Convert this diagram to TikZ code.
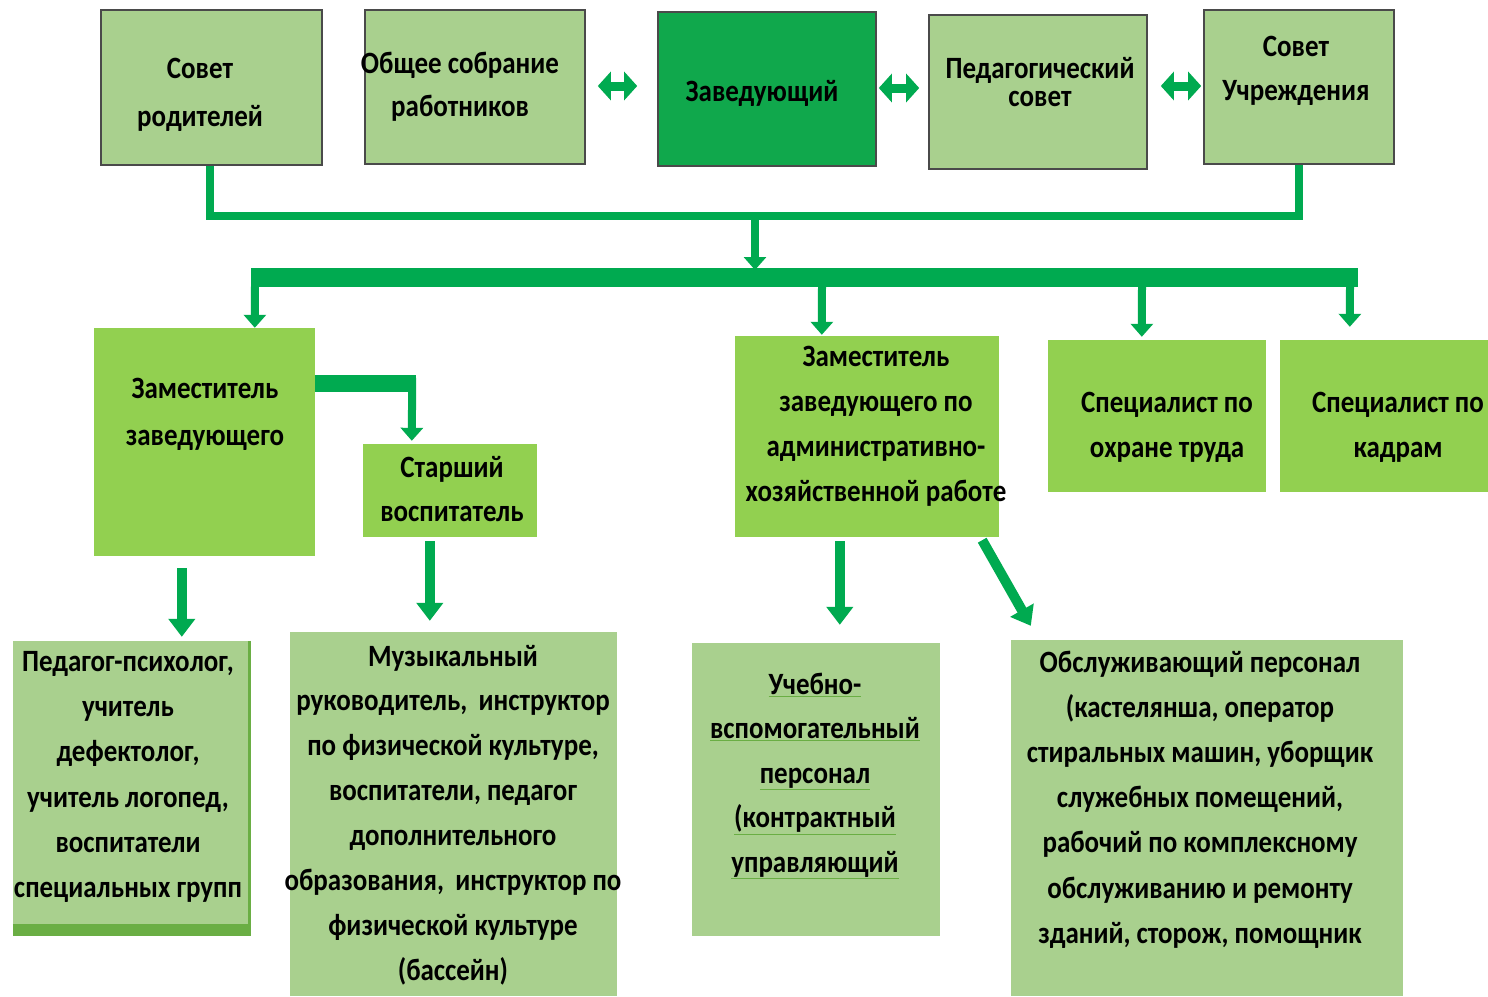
\documentclass[tikz,border=0pt]{standalone}
\usepackage{fontspec}
\setmainfont{Carlito}[FakeStretch=0.87]
\usetikzlibrary{arrows.meta,calc}
\definecolor{olive}{HTML}{A9D08E}
\definecolor{lime}{HTML}{92D050}
\definecolor{dark}{HTML}{10A84C}
\definecolor{grn}{HTML}{00AA50}
\definecolor{strip}{HTML}{6AAE44}
\definecolor{bord}{HTML}{4A4A4A}
\newcommand{\gul}[1]{{\color{strip}$\underline{\hbox{\color{black}#1}}$}}
\begin{document}
\begin{tikzpicture}[x=1pt,y=-1pt,
  box/.style={rectangle,inner sep=0pt,draw=bord,line width=1.6pt},
  boxA/.style={box,fill=olive},
  boxD/.style={box,fill=dark},
  boxL/.style={rectangle,inner sep=0pt,fill=lime},
  boxO/.style={rectangle,inner sep=0pt,fill=olive},
  txt/.style={align=center,inner sep=0pt,text=black,font=\bfseries\fontsize{31}{45}\selectfont},
  bus/.style={draw=grn,line width=8pt},
  conn/.style={draw=grn,line width=8pt,-{Triangle[width=22pt,length=13pt]}},
  big/.style={draw=grn,line width=10pt,-{Triangle[width=26pt,length=18pt]}},
  dbl/.style={draw=grn,line width=9pt,{Triangle[width=28pt,length=13pt]}-{Triangle[width=28pt,length=13pt]}}
]
\useasboundingbox[fill=white] (0,0) rectangle (1488,996);

% top row
\node[boxA,minimum width=221pt,minimum height=155pt] (b1) at (211.5,87.5) {};
\node[boxA,minimum width=220pt,minimum height=154pt] (b2) at (475,87) {};
\node[boxD,minimum width=218pt,minimum height=154pt] (b3) at (767,89) {};
\node[boxA,minimum width=218pt,minimum height=154pt] (b4) at (1038,92) {};
\node[boxA,minimum width=190pt,minimum height=154pt] (b5) at (1299,87) {};

\node[txt,font=\bfseries\fontsize{31}{48}\selectfont] (t1) at (200,95) {Совет\\родителей};
\node[txt,font=\bfseries\fontsize{31}{43}\selectfont] (t2) at (460,87) {Общее собрание\\работников};
\node[txt] (t3) at (762,93) {Заведующий};
\node[txt,font=\bfseries\fontsize{31}{28}\selectfont] (t4) at (1040,82) {Педагогический\\совет};
\node[txt,font=\bfseries\fontsize{31}{44}\selectfont] (t5) at (1296,71) {Совет\\Учреждения};

% double arrows
\draw[dbl,shorten <=12pt,shorten >=20pt] ($(b2.east)+(0,-1)$) -- ($(b2.east -| b3.west)+(0,-1)$);
\draw[dbl,shorten <=2pt,shorten >=9pt] ($(b3.east)+(0,-1)$) -- ($(b3.east -| b4.west)+(0,-1)$);
\draw[dbl,shorten <=13pt,shorten >=2pt] ($(b4.east)+(0,-6)$) -- ($(b4.east -| b5.west)+(0,-6)$);

% bus
\draw[bus] ($(b1.south)+(-2,0)$) -- ++(0,50) -| (b5.south);
\coordinate (j1) at (755,215);
\coordinate (j2) at (755,270);
\draw[conn] (j1) -- (j2);
\coordinate (barL) at (251,277.5);
\coordinate (barR) at (1358,277.5);
\draw[draw=grn,line width=19pt] (barL) -- (barR);

% second row
\node[boxL,minimum width=221pt,minimum height=228pt] (zam) at (204.5,442) {};
\node[boxL,minimum width=174pt,minimum height=93pt] (star) at (450,490.5) {};
\node[boxL,minimum width=264pt,minimum height=201pt] (zahr) at (867,436.5) {};
\node[boxL,minimum width=218pt,minimum height=152pt] (sot) at (1157,416) {};
\node[boxL,minimum width=208pt,minimum height=152pt] (sk) at (1384,416) {};

\node[txt,font=\bfseries\fontsize{31}{47}\selectfont] (t6) at (205,414.5) {Заместитель\\заведующего};
\node[txt,font=\bfseries\fontsize{31}{44}\selectfont] (t7) at (452,489) {Старший\\воспитатель};
\node[txt] (t8) at (876,426.5) {Заместитель\\заведующего по\\административно-\\хозяйственной работе};
\node[txt] (t9) at (1167,427.5) {Специалист по\\охране труда};
\node[txt] (t10) at (1398,427.5) {Специалист по\\кадрам};

% taps from bar
\coordinate (p1) at (255,286);
\coordinate (p2) at (822,286);
\coordinate (p3) at (1142,286);
\coordinate (p4) at (1350,286);
\draw[conn] (p1) -- ($(zam.north west)+(161,0)$);
\draw[conn] (p2) -- ($(zahr.north west)+(87,-1)$);
\draw[conn] (p3) -- ($(sot.north west)+(94,-3)$);
\draw[conn] (p4) -- ($(sk.north west)+(70,-13)$);

% zam -> star
\draw[draw=grn,line width=17pt] ($(zam.north east)+(0,56)$) -- ($(zam.north east)+(101,56)$);
\draw[conn] ($(zam.north east)+(97,50)$) -- ($(star.north west)+(49,-3)$);

% third row
\node[boxO,minimum width=238pt,minimum height=295pt] (ped) at (132,788.5) {};
\node[boxO,minimum width=327pt,minimum height=364pt] (mus) at (453.5,814) {};
\node[boxO,minimum width=248pt,minimum height=293pt] (ucheb) at (816,789.5) {};
\node[boxO,minimum width=392pt,minimum height=356pt] (obs) at (1207,818) {};
\draw[draw=strip,line width=12pt] ($(ped.south west)+(0,-6)$) -- ($(ped.south east)+(0,-6)$);
\draw[draw=strip,line width=3pt] ($(ped.north east)+(-1.5,0)$) -- ($(ped.south east)+(-1.5,0)$);

\node[txt,font=\bfseries\fontsize{31}{45.2}\selectfont] (t11) at (128,777) {Педагог-психолог,\\учитель\\дефектолог,\\учитель логопед,\\воспитатели\\специальных групп};
\node[txt,font=\bfseries\fontsize{31}{44.9}\selectfont] (t12) at (453,815) {Музыкальный\\руководитель,\, инструктор\\по физической культуре,\\воспитатели, педагог\\дополнительного\\образования,\, инструктор по\\физической культуре\\(бассейн)};
\node[txt,font=\bfseries\fontsize{31}{44.5}\selectfont] (t13) at (815,776) {\gul{Учебно-}\\\gul{вспомогательный}\\\gul{персонал}\\\gul{(контрактный}\\\gul{управляющий}};
\node[txt,font=\bfseries\fontsize{31}{45.2}\selectfont] (t14) at (1200,799.5) {Обслуживающий персонал\\(кастелянша, оператор\\стиральных машин, уборщик\\служебных помещений,\\рабочий по комплексному\\обслуживанию и ремонту\\зданий, сторож, помощник};

% arrows to third row
\draw[big] ($(zam.south west)+(88,12)$) -- ($(ped.north west)+(169,-4)$);
\draw[big] ($(star.south west)+(67,4)$) -- ($(mus.north west)+(140,-11)$);
\draw[big] ($(zahr.south west)+(105,4)$) -- ($(ucheb.north west)+(148,-18)$);
\draw[big] ($(zahr.south east)+(-17,3)$) -- ($(obs.north west)+(20,-14)$);
\end{tikzpicture}
\end{document}
